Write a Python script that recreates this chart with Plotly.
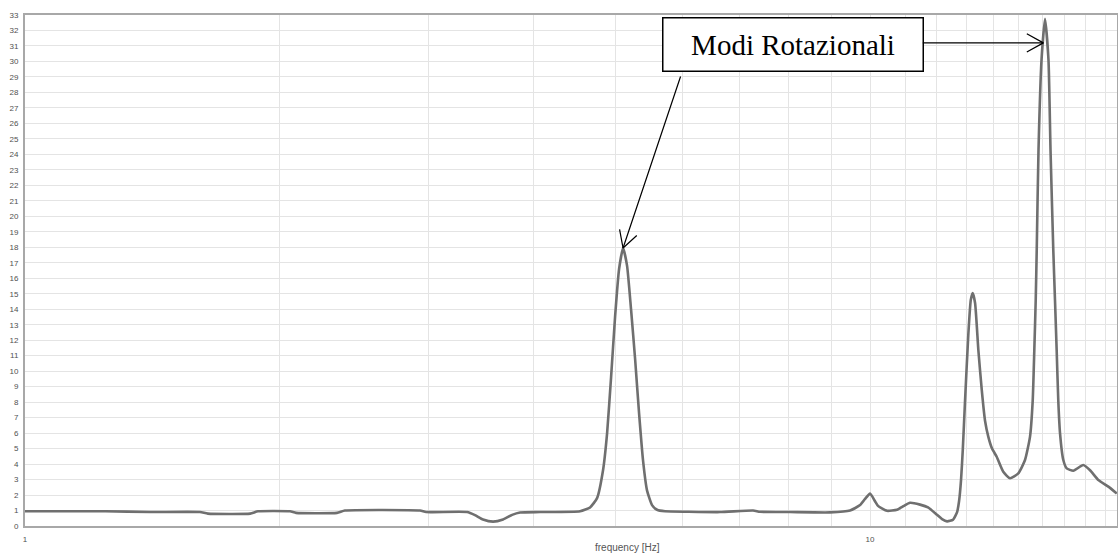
import numpy as np
import plotly.graph_objects as go

# frequency [Hz] and amplitude
freq = [1.0, 1.244, 1.406, 1.611, 1.646, 1.847, 1.887, 2.059, 2.093, 2.340, 2.391, 2.934, 2.983,
        3.336, 3.408, 3.483, 3.580, 3.679, 3.771, 3.853, 4.070, 4.538,
        4.663, 4.753, 4.831, 4.885, 4.938, 4.992, 5.047, 5.102, 5.158, 5.214, 5.272, 5.329, 5.388,
        5.446, 5.521, 5.597, 5.721,
        6.074, 6.645, 7.271, 7.411, 8.041, 8.969, 9.470, 9.732, 9.865, 10.0, 10.137, 10.220,
        10.474, 10.763, 10.970, 11.151, 11.460, 11.712, 12.004, 12.168, 12.335, 12.538, 12.677,
        12.745, 12.815, 12.875, 12.955, 13.072, 13.159, 13.229, 13.314, 13.434, 13.558, 13.680,
        13.804, 13.944, 14.122, 14.378, 14.644, 14.978, 15.254, 15.463, 15.578, 15.646, 15.706,
        15.749, 15.826, 15.957, 16.109, 16.262, 16.352, 16.477, 16.553, 16.629, 16.702, 16.781,
        16.933, 17.090, 17.400, 17.880, 18.213, 18.629, 19.143, 19.588]
amplitude = [0.95, 0.95, 0.9, 0.9, 0.8, 0.8, 0.95, 0.95, 0.85, 0.85, 1.0, 1.0, 0.9,
             0.9, 0.7, 0.42, 0.28, 0.42, 0.72, 0.87, 0.9, 0.95,
             1.2, 1.8, 3.6, 6.0, 9.6, 13.5, 16.6, 17.95, 16.8, 14.0, 10.8, 7.3, 4.2,
             2.3, 1.35, 1.05, 0.95,
             0.92, 0.9, 1.0, 0.92, 0.9, 0.88, 1.0, 1.35, 1.75, 2.1, 1.6, 1.3,
             0.98, 1.05, 1.3, 1.5, 1.38, 1.2, 0.72, 0.45, 0.3, 0.4, 0.9,
             1.6, 3.0, 4.9, 8.1, 12.4, 14.6, 15.05, 14.4, 11.35, 8.8, 6.8,
             5.76, 5.0, 4.47, 3.5, 3.08, 3.4, 4.26, 5.76, 8.1, 11.35, 14.6,
             17.8, 24.3, 30.1, 32.75, 30.1, 24.3, 17.8, 14.6, 11.35, 8.1, 6.0,
             4.26, 3.72, 3.57, 3.94, 3.6, 2.97, 2.54, 2.1]

y_ticks = list(range(0, 34))
x_grid = list(range(1, 20))
x_labels = ["1" if v == 1 else ("10" if v == 10 else "") for v in x_grid]
annot_text = "Modi Rotazionali"
x_title = "frequency [Hz]"

f = np.array(freq)
a = np.array(amplitude)
i1 = int(np.argmax(np.where(f < 8, a, 0)))
i3 = int(np.argmax(a))

fig = go.Figure()
fig.add_trace(go.Scatter(x=freq, y=amplitude, mode="lines",
                         line=dict(color="#6f6f6f", width=2.6, shape="spline", smoothing=0.5),
                         showlegend=False))

fig.update_layout(
    width=1118, height=555,
    margin=dict(l=25, r=1, t=15, b=29),
    paper_bgcolor="white", plot_bgcolor="white",
    font=dict(family="Liberation Sans, Arial, sans-serif", size=8, color="#505050"),
    xaxis=dict(type="log", range=[0, np.log10(19.6)], tickvals=x_grid, ticktext=x_labels,
               showgrid=True, gridcolor="#e4e4e4", gridwidth=1, automargin=False,
               showline=True, linecolor="#a8a8a8", linewidth=2, mirror=True,
               ticks="", ticklabelstandoff=4, zeroline=False),
    yaxis=dict(range=[0, 33], tickvals=y_ticks, showgrid=True, gridcolor="#e4e4e4", gridwidth=1,
               automargin=False,
               showline=True, linecolor="#a8a8a8", linewidth=2, mirror=True,
               ticks="", ticklabelstandoff=3, zeroline=False),
)

fig.add_annotation(x=0.552, y=-0.043, xref="paper", yref="paper", xanchor="center",
                   yanchor="middle", text=x_title, showarrow=False,
                   font=dict(size=10, color="#555555"))

fig.add_annotation(x=0.703, y=0.943, xref="paper", yref="paper", xanchor="center",
                   yanchor="middle", text=annot_text,
                   showarrow=False, font=dict(family="Liberation Serif, Times New Roman, serif",
                                              size=29, color="black"),
                   bordercolor="black", borderwidth=1.5, borderpad=2, bgcolor="white",
                   width=255, height=48)


def arrow(xv, yv, ax, ay, head_len=18, head_half=10):
    # shaft
    fig.add_annotation(x=xv, y=yv, xref="x", yref="y", ax=ax, ay=ay, showarrow=True,
                       arrowhead=0, arrowwidth=1.2, arrowcolor="black", text="")
    # open V arrowhead (two thin arms)
    d = np.array([-ax, -ay], dtype=float)
    d /= np.hypot(*d)
    p = np.array([-d[1], d[0]])
    for s in (1, -1):
        arm = -d * head_len + s * p * head_half
        fig.add_annotation(x=xv, y=yv, xref="x", yref="y", ax=float(arm[0]), ay=float(arm[1]),
                           showarrow=True, arrowhead=0, arrowwidth=1.2, arrowcolor="black",
                           text="")


arrow(np.log10(freq[i1]), amplitude[i1], 58, -173)
arrow(np.log10(freq[i3]) - 0.002, 31.2, -122, 0)

fig.write_html("out.html", config={"displayModeBar": False},
               post_script="document.body.style.margin='0px';")
